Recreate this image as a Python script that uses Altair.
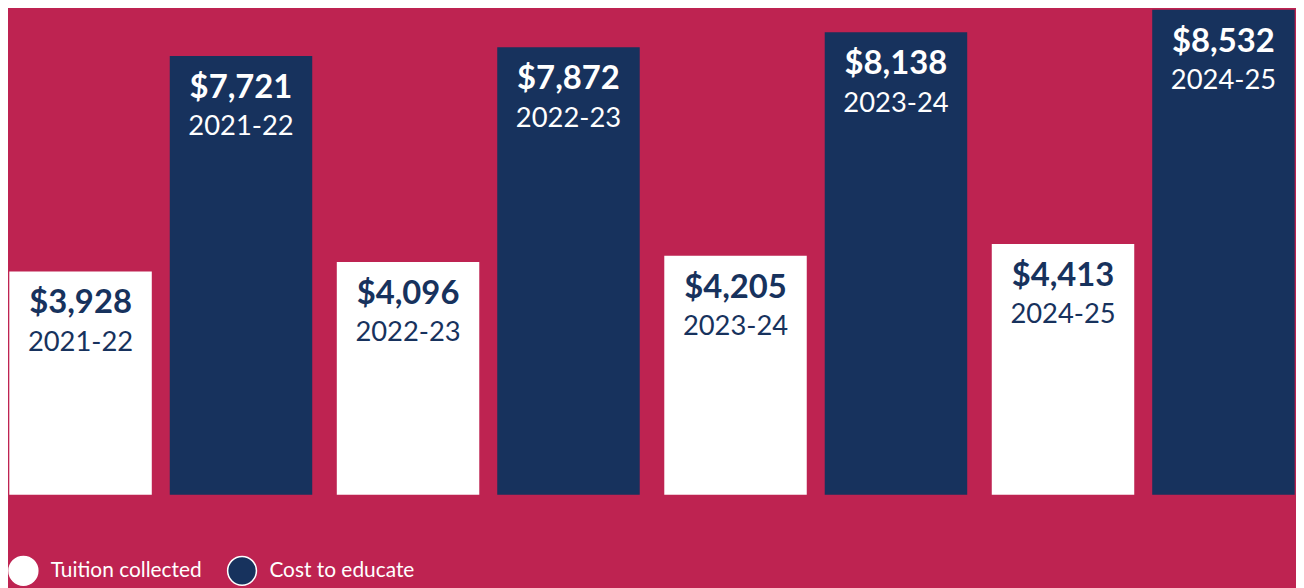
import altair as alt
import pandas as pd

years = ["2021-22", "2022-23", "2023-24", "2024-25"]
tuition = [3928, 4096, 4205, 4413]
cost = [7721, 7872, 8138, 8532]
series = ["Tuition collected", "Cost to educate"]

rows = []
for i, yr in enumerate(years):
    rows.append({"year": yr, "series": series[0], "value": tuition[i]})
    rows.append({"year": yr, "series": series[1], "value": cost[i]})
df = pd.DataFrame(rows)
df["label"] = df["value"].map(lambda v: f"${v:,}")

CRIMSON = "#BE2351"
NAVY = "#17325D"
FONT = "Lato"

x = alt.X("year:N", axis=None, sort=years,
          scale=alt.Scale(paddingInner=0.075, paddingOuter=0.004))
xo = alt.XOffset("series:N", sort=series,
                 scale=alt.Scale(paddingInner=0.112, paddingOuter=0))
y = alt.Y("value:Q", axis=None, scale=alt.Scale(domain=[0, 8532], nice=False))

base = alt.Chart(df).encode(x=x, xOffset=xo, y=y)

bars = base.mark_bar().encode(
    color=alt.Color(
        "series:N", sort=series,
        scale=alt.Scale(domain=series, range=["#FFFFFF", NAVY]),
        legend=alt.Legend(
            title=None, orient="none", legendX=0, legendY=549,
            direction="horizontal", symbolType="circle", symbolSize=841,
            symbolStrokeColor="white", symbolStrokeWidth=1.5,
            labelColor="white", labelFontSize=21, labelFont=FONT,
            labelOffset=12, columnPadding=23, padding=0, symbolOpacity=1,
        ),
    )
)

txt_color = alt.condition(alt.datum.series == series[1], alt.value("white"), alt.value(NAVY))

val_text = base.mark_text(dy=42, baseline="alphabetic", align="center",
                          font=FONT, fontSize=33, fontWeight="bold").encode(
    text="label:N", color=txt_color)

yr_text = base.mark_text(dy=80, baseline="alphabetic", align="center",
                         font=FONT, fontSize=27.5).encode(
    text="year:N", color=txt_color)

chart = (bars + val_text + yr_text).properties(
    width=1296, height=488,
    background=CRIMSON,
    padding={"left": 0, "right": 0, "top": 0, "bottom": 2},
).configure_view(stroke=None)

chart.save("out.html", embed_options={"renderer": "svg", "actions": False})
